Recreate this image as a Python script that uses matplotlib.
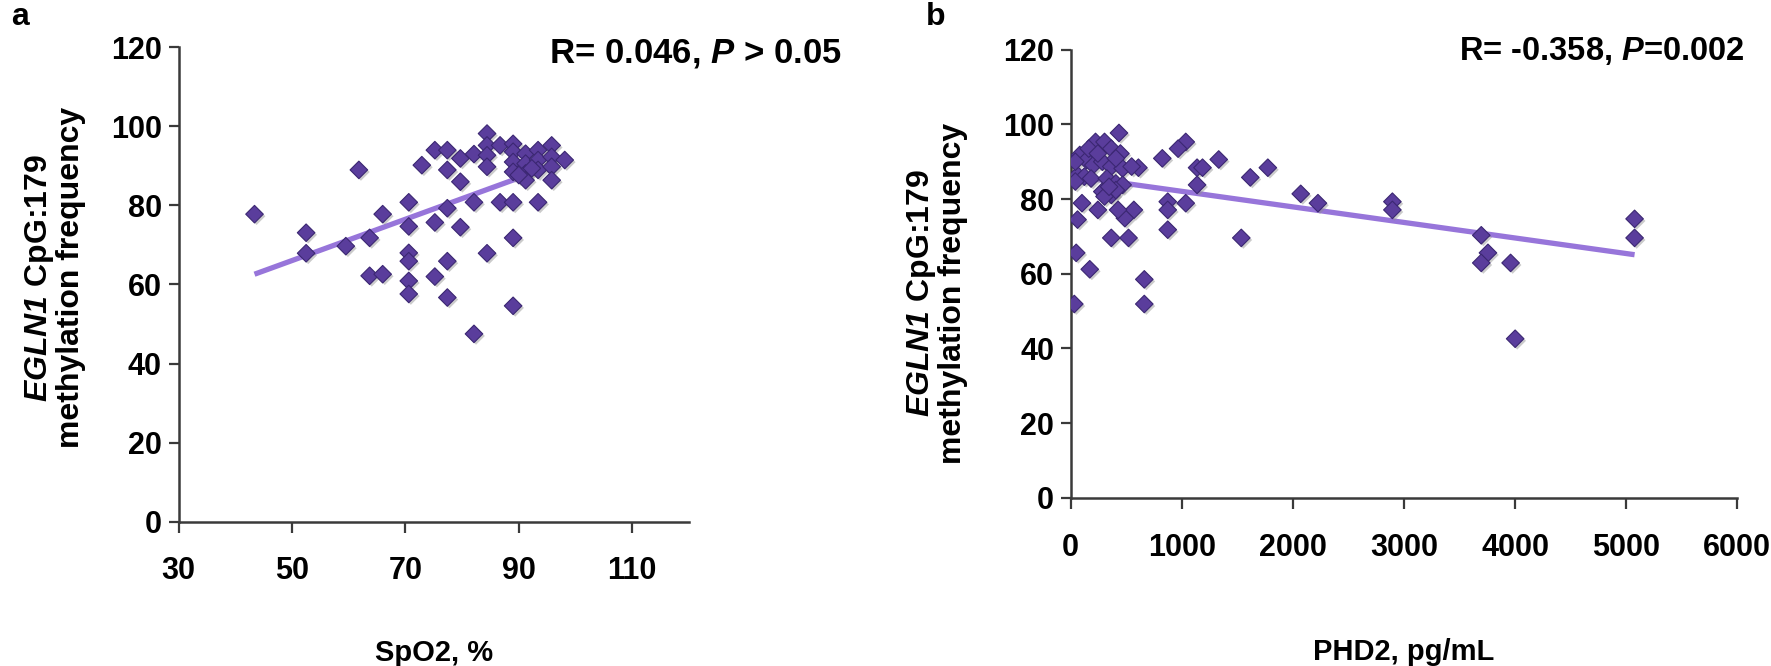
import matplotlib
matplotlib.use("Agg")
import matplotlib.pyplot as plt
import matplotlib.patheffects as pe

plt.rcParams['font.family'] = ['Liberation Sans', 'DejaVu Sans']
plt.rcParams['font.weight'] = 'bold'
plt.rcParams['axes.labelweight'] = 'bold'
plt.rcParams['mathtext.fontset'] = 'custom'
# only italic words go through mathtext here, digits included
plt.rcParams['mathtext.rm'] = 'Liberation Sans:italic:bold'
plt.rcParams['mathtext.it'] = 'Liberation Sans:italic:bold'

# panel a: SpO2 (%) vs EGLN1 CpG:179 methylation frequency
spo2 = [43.4, 52.5, 52.5, 59.5, 61.8, 63.7, 63.7, 66.0, 66.0, 70.6,
        70.6, 70.6, 70.6, 70.6, 70.6, 72.9, 75.2, 75.2, 75.2, 77.4,
        77.4, 77.4, 77.4, 77.4, 79.7, 79.7, 79.7, 82.1, 82.1, 82.1,
        84.4, 84.4, 84.4, 84.4, 84.4, 86.7, 86.7, 89.0, 89.0, 89.0,
        89.0, 89.0, 89.0, 89.0, 91.2, 91.2, 91.2, 91.2, 93.4, 93.4,
        93.4, 93.4, 95.8, 95.8, 95.8, 95.8, 98.1, 92.3, 90.0]
meth_a = [77.8, 73.1, 67.9, 69.7, 89.0, 71.8, 62.2, 77.8, 62.6, 80.8,
          74.7, 68.0, 65.9, 60.9, 57.6, 90.2, 94.0, 75.7, 62.0, 94.0,
          89.0, 79.3, 65.9, 56.7, 91.9, 86.0, 74.5, 93.0, 80.8, 47.5,
          98.2, 95.2, 92.7, 89.8, 67.9, 95.2, 80.8, 95.6, 93.6, 91.0,
          88.5, 80.8, 71.8, 54.6, 93.1, 90.6, 88.1, 86.4, 94.0, 91.5,
          89.0, 80.8, 95.2, 92.3, 89.8, 86.4, 91.5, 89.4, 87.7]
trend_a_x = [43.4, 89.5]
trend_a_y = [62.6, 86.7]

# panel b: PHD2 (pg/mL) vs EGLN1 CpG:179 methylation frequency
phd2 = [5075, 5075, 3695, 3755, 3695, 3959, 4000, 2895, 2895, 2070,
        2225, 1616, 1774, 1535, 1332, 1137, 1186, 1137, 1035, 1035,
        966, 824, 873, 873, 873, 662, 662, 609, 568, 520,
        365, 487, 426, 244, 101, 61, 49, 171, 32, 434,
        223, 304, 365, 447, 81, 142, 203, 284, 365, 467,
        548, 61, 122, 183, 325, 406, 467, 284, 365, 406,
        304, 345, 41, 41, 162, 244, 406]
meth_b = [74.7, 69.6, 70.3, 65.6, 62.9, 62.9, 42.6, 79.3, 77.1, 81.4,
          78.9, 85.8, 88.4, 69.6, 90.6, 88.4, 88.4, 83.8, 78.9, 95.3,
          93.5, 90.9, 79.3, 77.1, 71.8, 58.5, 51.9, 88.4, 77.1, 69.6,
          69.6, 74.9, 77.1, 77.1, 78.9, 74.5, 65.6, 61.2, 51.9, 97.7,
          95.3, 95.3, 93.5, 92.2, 91.8, 90.4, 89.1, 90.0, 88.7, 88.2,
          88.7, 86.4, 86.0, 85.5, 85.5, 84.2, 83.8, 82.0, 81.1, 82.4,
          80.7, 83.3, 90.0, 84.7, 93.5, 92.2, 90.9]
trend_b_x = [32, 5075]
trend_b_y = [86.1, 65.1]

y_ticks = [0, 20, 40, 60, 80, 100, 120]
x_ticks_a = [30, 50, 70, 90, 110]
x_ticks_b = [0, 1000, 2000, 3000, 4000, 5000, 6000]

POINT = '#5a3d9c'
EDGE = '#3b2772'
LINE = '#9775da'
AXIS = '#3a3a3a'
ylabel_text = r'$EGLN1$ CpG:179' + '\nmethylation frequency'


def draw_panel(ax, x, y, tx, ty, xticks, xlim, xlabel, lpad):
	ax.plot(tx, ty, color=LINE, lw=3.8, solid_capstyle='butt', zorder=2)
	ax.scatter(x, y, marker='D', s=80, color=POINT, edgecolors=EDGE, linewidths=0.8,
	           zorder=3, path_effects=[pe.SimplePatchShadow(offset=(1.5, -1.5), shadow_rgbFace='0.55', alpha=0.45), pe.Normal()])
	ax.set_xlim(*xlim)
	ax.set_ylim(0, 120)
	ax.set_xticks(xticks)
	ax.set_yticks(y_ticks)
	for s in ['top', 'right']:
		ax.spines[s].set_visible(False)
	for s in ['left', 'bottom']:
		ax.spines[s].set_color(AXIS)
		ax.spines[s].set_linewidth(1.8)
	ax.tick_params(axis='x', direction='out', length=8, width=1.6, color=AXIS, pad=17, labelsize=22)
	ax.tick_params(axis='y', direction='out', length=7, width=1.6, color=AXIS, pad=5, labelsize=22)
	ax.set_xlabel(xlabel, fontsize=21, labelpad=lpad)
	ax.patch.set_alpha(0)


fig = plt.figure(figsize=(17.71, 6.66), dpi=100)

ax_a = fig.add_axes([0.1008, 0.2169, 0.2882, 0.7119])
draw_panel(ax_a, spo2, meth_a, trend_a_x, trend_a_y, x_ticks_a, (30, 120), 'SpO2, %', 38)

ax_b = fig.add_axes([0.6046, 0.2525, 0.3764, 0.6729])
draw_panel(ax_b, phd2, meth_b, trend_b_x, trend_b_y, x_ticks_b, (0, 6000), 'PHD2, pg/mL', 54)

fig.text(0.031, 0.583, ylabel_text, rotation=90, ha='center', va='center', fontsize=23, multialignment='center', linespacing=1.0)
fig.text(0.529, 0.56, ylabel_text, rotation=90, ha='center', va='center', fontsize=23, multialignment='center', linespacing=1.0)

fig.text(0.475, 0.919, r'R= 0.046, $P$ > 0.05', ha='right', va='center', fontsize=25)
fig.text(0.985, 0.924, r'R= -0.358, $P$=0.002', ha='right', va='center', fontsize=23.5)

fig.text(0.006, 0.975, 'a', ha='left', va='center', fontsize=23)
fig.text(0.523, 0.975, 'b', ha='left', va='center', fontsize=23)

fig.savefig('out.png', dpi=100, facecolor='white')
